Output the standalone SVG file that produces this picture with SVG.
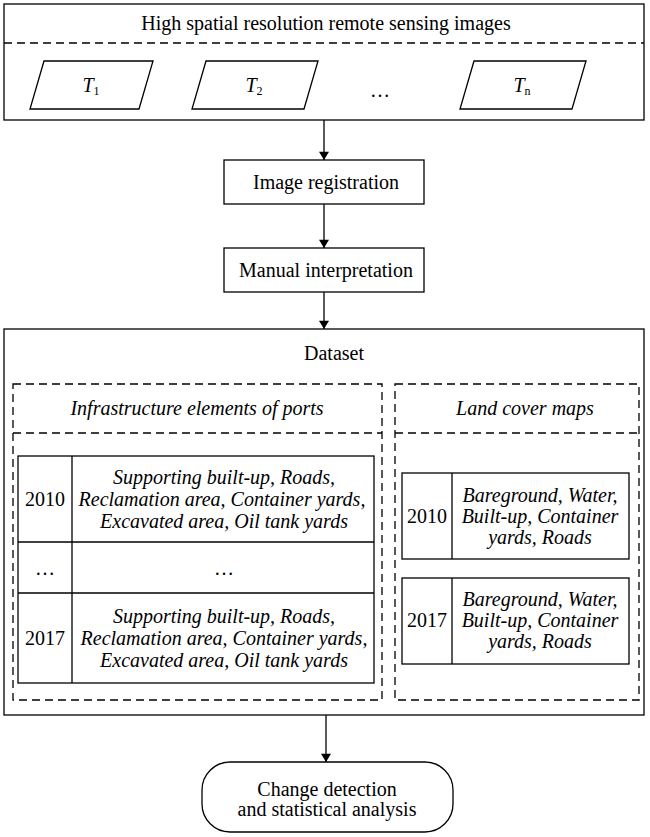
<svg xmlns="http://www.w3.org/2000/svg" width="650" height="837" viewBox="0 0 650 837">
<defs>
<style>
text{font-family:"Liberation Serif","Times New Roman",serif;font-size:20px;fill:#000;text-anchor:middle}
.it{font-style:italic}
.box{fill:#fff;stroke:#000;stroke-width:1.3}
.dash{fill:none;stroke:#000;stroke-width:1.3;stroke-dasharray:8 5}
.ln{fill:none;stroke:#000;stroke-width:1.3}
.sub{font-size:12px;font-style:normal}
</style>
<marker id="ah" viewBox="0 0 10 12" refX="10" refY="6" markerWidth="12" markerHeight="10" markerUnits="userSpaceOnUse" orient="auto">
<path d="M0,0 L10,6 L0,12 z" fill="#000"/>
</marker>
</defs>
<rect width="650" height="837" fill="#fff"/>

<g id="connectors">
<line class="ln" x1="324" y1="120" x2="324" y2="160" marker-end="url(#ah)"/>
<line class="ln" x1="324" y1="204" x2="324" y2="248" marker-end="url(#ah)"/>
<line class="ln" x1="324" y1="292" x2="324" y2="329" marker-end="url(#ah)"/>
<line class="ln" x1="326" y1="715" x2="326" y2="762" marker-end="url(#ah)"/>
</g>

<g id="images">
<rect class="box" x="4" y="4" width="640" height="116"/>
<line class="dash" x1="4" y1="43" x2="644" y2="43"/>
<text x="326" y="30">High spatial resolution remote sensing images</text>
</g>
<g id="t1">
<polygon class="box" points="44,61 153,61 139,109 30,109"/>
<text x="91" y="92"><tspan class="it">T</tspan><tspan class="sub" dy="3">1</tspan></text>
</g>
<g id="t2">
<polygon class="box" points="206,61 318,61 304,109 192,109"/>
<text x="254" y="92"><tspan class="it">T</tspan><tspan class="sub" dy="3">2</tspan></text>
</g>
<g id="tdots">
<text x="380" y="97">…</text>
</g>
<g id="tn">
<polygon class="box" points="474,61 586,61 572,109 460,109"/>
<text x="522" y="92"><tspan class="it">T</tspan><tspan class="sub" dy="3">n</tspan></text>
</g>

<g id="registration">
<rect class="box" x="224" y="160" width="200" height="44"/>
<text x="326" y="189">Image registration</text>
</g>
<g id="interpretation">
<rect class="box" x="224" y="248" width="200" height="44"/>
<text x="326" y="277">Manual interpretation</text>
</g>

<g id="dataset">
<rect class="box" x="4" y="329" width="640" height="386"/>
<text x="334" y="360">Dataset</text>
</g>

<g id="infrastructure">
<rect class="dash" x="13" y="384" width="369" height="316"/>
<line class="dash" x1="13" y1="433" x2="382" y2="433"/>
<text class="it" x="197" y="415">Infrastructure elements of ports</text>
<rect class="box" x="18" y="456" width="356" height="227"/>
<line class="ln" x1="72" y1="456" x2="72" y2="683"/>
<line class="ln" x1="18" y1="542" x2="374" y2="542"/>
<line class="ln" x1="18" y1="593" x2="374" y2="593"/>
<text x="45" y="506">2010</text>
<text class="it" x="224" y="484">Supporting built-up, Roads,</text>
<text class="it" x="222" y="506">Reclamation area, Container yards,</text>
<text class="it" x="224" y="528">Excavated area, Oil tank yards</text>
<text x="45" y="575">…</text>
<text x="224" y="575">…</text>
<text x="45" y="645">2017</text>
<text class="it" x="224" y="623">Supporting built-up, Roads,</text>
<text class="it" x="224" y="645">Reclamation area, Container yards,</text>
<text class="it" x="224" y="667">Excavated area, Oil tank yards</text>
</g>

<g id="landcover">
<rect class="dash" x="395" y="384" width="244" height="316"/>
<line class="dash" x1="395" y1="433" x2="639" y2="433"/>
<text class="it" x="525" y="415">Land cover maps</text>
<rect class="box" x="402" y="473" width="227" height="86"/>
<line class="ln" x1="452" y1="473" x2="452" y2="559"/>
<text x="427" y="523">2010</text>
<text class="it" x="540" y="502">Bareground, Water,</text>
<text class="it" x="540" y="523">Built-up, Container</text>
<text class="it" x="540" y="544">yards, Roads</text>
<rect class="box" x="402" y="578" width="227" height="86"/>
<line class="ln" x1="452" y1="578" x2="452" y2="664"/>
<text x="427" y="627">2017</text>
<text class="it" x="540" y="606">Bareground, Water,</text>
<text class="it" x="540" y="627">Built-up, Container</text>
<text class="it" x="540" y="648">yards, Roads</text>
</g>

<g id="change">
<rect class="box" x="202" y="762" width="251" height="70" rx="28" ry="28"/>
<text x="327" y="796">Change detection</text>
<text x="327" y="816">and statistical analysis</text>
</g>
</svg>
